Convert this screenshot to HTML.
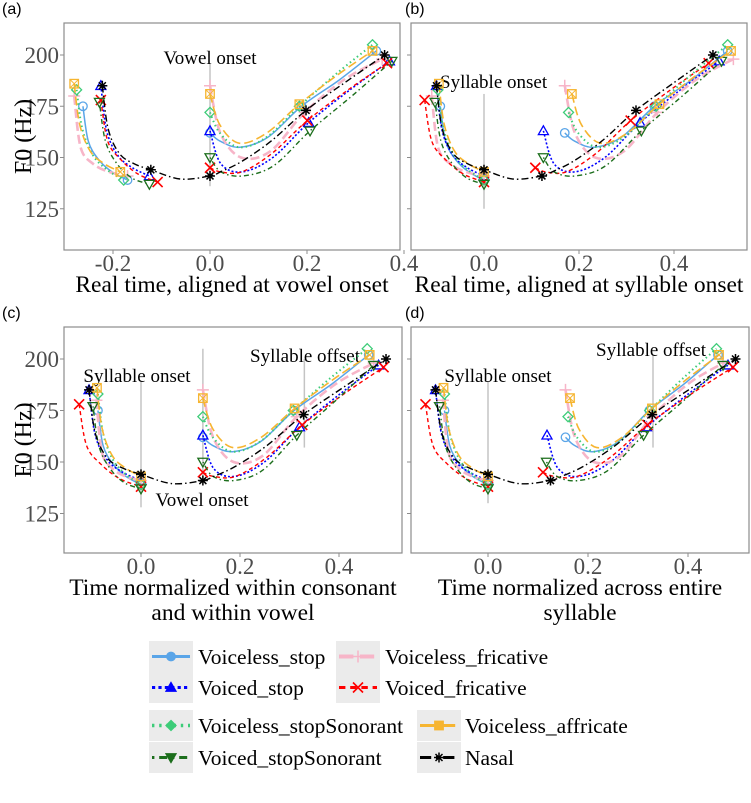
<!DOCTYPE html>
<html><head><meta charset="utf-8">
<style>
html,body{margin:0;padding:0;background:#fff;}
svg{display:block;}
</style></head>
<body>
<svg id="fig" width="751" height="803" viewBox="0 0 751 803" xmlns="http://www.w3.org/2000/svg"></svg>
<script>
// ---- data ----
const seriesNames = ["Voiceless_stop","Voiced_stop","Voiceless_fricative","Voiced_fricative","Voiceless_stopSonorant","Voiced_stopSonorant","Voiceless_affricate","Nasal"];
const consFrac = [0, 0.12, 0.35, 0.65, 1];
const vowFrac = [0, 0.06, 0.18, 0.35, 0.55, 0.78, 1];
// consonant F0 (Hz) per series
const consF0 = [
  [175,158,149,143,139],
  [185,163,151,145,141],
  [180,155,147,143,141],
  [178,158,149,142,138],
  [183,164,151,144,139],
  [177,158,147,140,137],
  [186,166,153,147,143],
  [185,164,152,147,144]
];
// vowel F0 (Hz) per series
const vowF0 = [
  [162,158,155,160,175,188,202],
  [163,147,143,150,167,183,197],
  [185,162,150,153,172,188,198],
  [145,143,143,152,168,183,196],
  [172,162,155,160,175,191,205],
  [150,143,141,146,163,180,197],
  [181,166,157,162,176,190,202],
  [141,143,148,158,173,187,200]
];
// timing per panel: [consStart, consEnd, vowelStart, vowelEnd]
const timesA = [[-0.262,-0.17,0,0.343],[-0.225,-0.125,0,0.37],[-0.28,-0.17,0,0.355],[-0.225,-0.108,0,0.365],[-0.275,-0.178,0,0.335],[-0.228,-0.125,0,0.375],[-0.28,-0.185,0,0.335],[-0.222,-0.122,0,0.36]];
const timesB = [[-0.092,0,0.17,0.513],[-0.1,0,0.125,0.495],[-0.11,0,0.17,0.525],[-0.125,0,0.108,0.473],[-0.097,0,0.178,0.513],[-0.103,0,0.125,0.5],[-0.095,0,0.185,0.52],[-0.1,0,0.122,0.482]];
const timesC = [[-0.087,0,0.125,0.46],[-0.105,0,0.125,0.48],[-0.09,0,0.125,0.47],[-0.125,0,0.125,0.49],[-0.087,0,0.125,0.457],[-0.097,0,0.125,0.47],[-0.089,0,0.125,0.462],[-0.105,0,0.125,0.495]];
const timesD = [[-0.087,0,0.155,0.46],[-0.105,0,0.118,0.48],[-0.09,0,0.155,0.47],[-0.125,0,0.11,0.49],[-0.087,0,0.16,0.457],[-0.097,0,0.117,0.47],[-0.089,0,0.164,0.462],[-0.105,0,0.125,0.495]];
const yTicks = [125,150,175,200];
const xTicksA = [-0.2,0,0.2,0.4];
const xTicksB = [0,0.2,0.4];
const xTicksCD = [0,0.2,0.4];

// ---- styles ----
const styles = [
  {c:"#5aa5e8",w:1.5,d:"",m:"circle"},
  {c:"#0000ff",w:1.6,d:"2,2",m:"tri"},
  {c:"#f7b5c8",w:2.6,d:"9,4",m:"plus"},
  {c:"#ff0000",w:1.4,d:"4,3",m:"x"},
  {c:"#3dcc78",w:2,d:"1.5,3",m:"diamond"},
  {c:"#1c6e1c",w:1.4,d:"1.5,3,5,3",m:"dtri"},
  {c:"#f6b531",w:1.6,d:"9,4",m:"sq"},
  {c:"#000000",w:1.4,d:"7,3,1.5,3",m:"star"}
];
const FONTS={
  tk:{f:'"Liberation Serif", serif',s:23,c:'#4d4d4d'},
  ttl:{f:'"Liberation Serif", serif',s:23.5,c:'#000'},
  ann:{f:'"Liberation Serif", serif',s:19,c:'#000'},
  pl:{f:'"Liberation Sans", sans-serif',s:16,c:'#000'},
  lg:{f:'"Liberation Serif", serif',s:21.5,c:'#000'}
};
const NS="http://www.w3.org/2000/svg";
const svg=document.getElementById('fig');
function el(tag,attrs,parent){const e=document.createElementNS(NS,tag);for(const k in attrs)e.setAttribute(k,attrs[k]);(parent||svg).appendChild(e);return e;}
function txt(s,x,y,cls,anchor,parent){const F=FONTS[cls];const t=el('text',{x:x,y:y,'font-family':F.f,'font-size':F.s,fill:F.c,'text-anchor':anchor||'start'},parent);t.textContent=s;return t;}
function smooth(p){if(p.length<2)return "";let d="M"+p[0][0]+","+p[0][1];for(let i=0;i<p.length-1;i++){const p0=p[Math.max(0,i-1)],p1=p[i],p2=p[i+1],p3=p[Math.min(p.length-1,i+2)];const c1=[p1[0]+(p2[0]-p0[0])/6,p1[1]+(p2[1]-p0[1])/6];const c2=[p2[0]-(p3[0]-p1[0])/6,p2[1]-(p3[1]-p1[1])/6];d+=" C"+c1[0]+","+c1[1]+" "+c2[0]+","+c2[1]+" "+p2[0]+","+p2[1];}return d;}
function marker(type,x,y,col,filled,parent,r){r=r||5;const f=filled?col:"none";const a={stroke:col,'stroke-width':1.3,fill:f};let e;
  if(type==="circle")e=el('circle',Object.assign({cx:x,cy:y,r:r*0.85},a),parent);
  else if(type==="tri")e=el('polygon',Object.assign({points:`${x},${y-r} ${x-r},${y+r*0.75} ${x+r},${y+r*0.75}`},a),parent);
  else if(type==="dtri")e=el('polygon',Object.assign({points:`${x},${y+r} ${x-r},${y-r*0.75} ${x+r},${y-r*0.75}`},a),parent);
  else if(type==="diamond")e=el('polygon',Object.assign({points:`${x},${y-r} ${x+r},${y} ${x},${y+r} ${x-r},${y}`},a),parent);
  else if(type==="sq"){e=el('g',{},parent);el('rect',{x:x-r*0.85,y:y-r*0.85,width:r*1.7,height:r*1.7,stroke:col,'stroke-width':1.3,fill:filled?col:"none"},e);el('path',{d:`M${x-r*0.85},${y-r*0.85}L${x+r*0.85},${y+r*0.85}M${x+r*0.85},${y-r*0.85}L${x-r*0.85},${y+r*0.85}`,stroke:col,'stroke-width':1},e);}
  else if(type==="plus")e=el('path',{d:`M${x-r*1.2},${y}H${x+r*1.2}M${x},${y-r*1.2}V${y+r*1.2}`,stroke:col,'stroke-width':1.5,fill:"none"},parent);
  else if(type==="x")e=el('path',{d:`M${x-r},${y-r}L${x+r},${y+r}M${x+r},${y-r}L${x-r},${y+r}`,stroke:col,'stroke-width':1.6,fill:"none"},parent);
  else if(type==="star")e=el('path',{d:`M${x-r},${y}H${x+r}M${x},${y-r}V${y+r}M${x-r*0.7},${y-r*0.7}L${x+r*0.7},${y+r*0.7}M${x+r*0.7},${y-r*0.7}L${x-r*0.7},${y+r*0.7}`,stroke:col,'stroke-width':1.5,fill:"none"},parent);
  return e;}

const panels=[
 {id:"a",lab:"(a)",L:64,R:400,T:23,B:250,x0:210,k:485,y200:55,hz:2.05,times:timesA,xt:xTicksA,title:["Real time, aligned at vowel onset"],left:true},
 {id:"b",lab:"(b)",L:411,R:747,T:23,B:250,x0:484,k:475,y200:55,hz:2.05,times:timesB,xt:xTicksB,title:["Real time, aligned at syllable onset"],left:false},
 {id:"c",lab:"(c)",L:64,R:402,T:327,B:553,x0:141,k:495,y200:359,hz:2.06,times:timesC,xt:xTicksCD,title:["Time normalized within consonant","and within vowel"],left:true},
 {id:"d",lab:"(d)",L:411,R:749,T:327,B:553,x0:488,k:500,y200:359,hz:2.06,times:timesD,xt:xTicksCD,title:["Time normalized across entire","syllable"],left:false}
];
const annots={
 a:[{x:0,f1:196,f2:136,t:"Vowel onset",tx:210,ty:64,an:"middle"}],
 b:[{x:0,f1:181,f2:125,t:"Syllable onset",tx:440,ty:88,an:"start"}],
 c:[{x:0,f1:189,f2:128,t:"Syllable onset",tx:137,ty:382,an:"middle"},{x:0.125,f1:205,f2:140,t:"Vowel onset",tx:202,ty:506,an:"middle"},{x:0.33,f1:200,f2:157,t:"Syllable offset",tx:305,ty:362,an:"middle"}],
 d:[{x:0,f1:189,f2:130,t:"Syllable onset",tx:498,ty:382,an:"middle"},{x:0.33,f1:202,f2:157,t:"Syllable offset",tx:651,ty:356,an:"middle"}]
};

panels.forEach(P=>{
  const g=el('g',{});
  
  
  const X=v=>P.x0+v*P.k, Y=v=>P.y200+(200-v)*P.hz;
  const pl=txt(P.lab,P.L-62+(P.left?0:56),P.T-9,'pl','start',g);
  
  const box=el('rect',{x:P.L,y:P.T,width:P.R-P.L,height:P.B-P.T,fill:'#fff',stroke:'#8c8c8c','stroke-width':1.2},g);
  
  yTicks.forEach(v=>{el('line',{x1:P.L-4,x2:P.L,y1:Y(v),y2:Y(v),stroke:'#8c8c8c'},g);
    if(P.left){const t=txt(String(v),P.L-5,Y(v)+8,'tk','end',g);}});
  P.xt.forEach(v=>{el('line',{x1:X(v),x2:X(v),y1:P.B,y2:P.B+4,stroke:'#8c8c8c'},g);
    const t=txt(v.toFixed(1),X(v),P.B+21,'tk','middle',g);});
  P.title.forEach((s,i)=>{const t=txt(s,(P.L+P.R)/2,P.B+42+i*25,'ttl','middle',g);});
  if(P.left){const t=txt('F0 (Hz)',0,0,'ttl','middle',g);t.setAttribute('transform',`translate(31,${(P.T+P.B)/2}) rotate(-90)`);t.setAttribute('font-size','24');}
  annots[P.id].forEach(a=>{const l=el('line',{x1:X(a.x),x2:X(a.x),y1:Y(a.f1),y2:Y(a.f2),stroke:'#c4c4c4','stroke-width':1.5},g);
    
    const t=txt(a.t,a.tx,a.ty,'ann',a.an,g);});
  seriesNames.forEach((nm,si)=>{
    const st=styles[si],tm=P.times[si];
    const cp=consFrac.map((f,i)=>[X(tm[0]+f*(tm[1]-tm[0])),Y(consF0[si][i])]);
    const vp=vowFrac.map((f,i)=>[X(tm[2]+f*(tm[3]-tm[2])),Y(vowF0[si][i])]);
    const sg=el('g',{},g);
    
    
    let segs=[cp,vp];
    if(nm==="Nasal"){const mid=(tm[1]+tm[2])/2;const mf=Math.min(consF0[si][4],vowF0[si][0])-1.5;segs=[cp.concat([[X(mid),Y(mf)]]).concat(vp)];}
    segs.forEach(s=>{const p=el('path',{d:smooth(s),fill:'none',stroke:st.c,'stroke-width':st.w,'stroke-dasharray':st.d},sg);
      });
    [cp[0],cp[4],vp[0],vp[4],vp[6]].forEach(q=>{const m=marker(st.m,q[0],q[1],st.c,false,sg);
      });
  });
});

// ---- legend ----
const legend=el('g',{});


const legPos=[[149,641,198],[149,672,198],[336,641,385],[336,672,385],[149,710,198],[149,742,198],[417,710,465],[417,742,465]];
const legOrder=[0,1,2,3,4,5,6,7];
legOrder.forEach((si,i)=>{
  const [kx,ky,tx]=legPos[i],st=styles[si];
  const e=el('g',{},legend);
  
  
  el('rect',{x:kx,y:ky,width:44,height:31,fill:'#ebebeb'},e);
  el('line',{x1:kx+3,x2:kx+41,y1:ky+15.5,y2:ky+15.5,stroke:st.c,'stroke-width':st.w+1.5,'stroke-dasharray':st.d? st.d.split(',').map(v=>v*1.6).join(','):''},e);
  marker(st.m,kx+22,ky+15.5,st.c,true,e,5);
  txt(seriesNames[si],tx,ky+23,'lg','start',e);
});
</script>
</body></html>
